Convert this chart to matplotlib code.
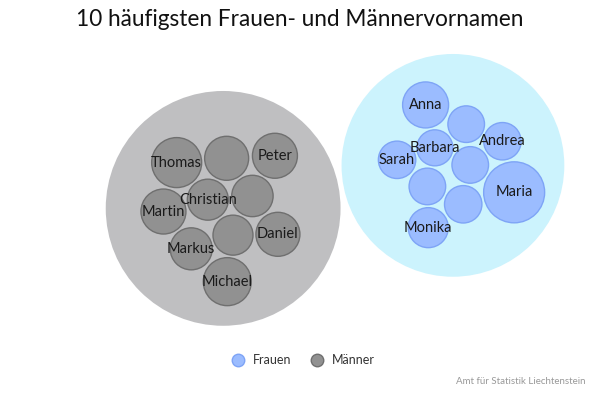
import numpy as np
import matplotlib
matplotlib.use("Agg")
import matplotlib.pyplot as plt
from matplotlib.patches import Circle
from matplotlib.lines import Line2D

plt.rcParams['font.family'] = ['Lato', 'DejaVu Sans']

# daten (grösse der blasen ~ anzahl)
frauen_namen = ["Maria", "Anna", "Monika", "Andrea", "Sarah", "", "", "", "", "Barbara"]
frauen_werte = [930, 529, 400, 350, 350, 350, 335, 335, 335, 324]
maenner_namen = ["Thomas", "Michael", "Peter", "Martin", "Daniel", "", "Markus", "", "Christian", ""]
maenner_werte = [625, 576, 506, 506, 484, 484, 441, 428, 420, 400]
serien = ["Frauen", "Männer"]

farbe_kind = {"Frauen": "#9bbcff", "Männer": "#919191"}
farbe_rand = {"Frauen": "#7ea4f6", "Männer": "#6f6f6f"}
farbe_eltern = {"Frauen": "#ccf3fd", "Männer": "#bfbfc1"}


def pack(radien, gap=3.0, schritte=400, start=0.0):
    """einfaches kraft-layout: anziehung zur mitte, abstossung bei ueberlappung"""
    r = np.asarray(radien, float)
    n = len(r)
    k = np.arange(n)[::-1]  # kleine blasen zuerst in die mitte
    w = k * 2.4 + start
    pos = np.c_[np.cos(w), np.sin(w)] * (np.sqrt(k + 0.5) * r.mean() * 1.8)[:, None]
    for it in range(schritte):
        pos -= pos * 0.03
        for _ in range(4):
            for i in range(n):
                for j in range(i + 1, n):
                    d = pos[j] - pos[i]
                    dist = np.hypot(*d) + 1e-9
                    m = r[i] + r[j] + gap
                    if dist < m:
                        s = d / dist * (m - dist) / 2
                        pos[i] -= s
                        pos[j] += s
    pos -= pos.mean(axis=0)
    return pos


fig = plt.figure(figsize=(6, 4), dpi=100)
ax = fig.add_axes([0, 0, 1, 1])
ax.set_xlim(0, 600)
ax.set_ylim(400, 0)
ax.set_aspect("equal")
ax.axis("off")

skala = 1.0  # radius = skala * sqrt(wert) in pixel
gruppen = {}
for s, namen, werte, start, pad in [("Frauen", frauen_namen, frauen_werte, -2.3, 14),
                                     ("Männer", maenner_namen, maenner_werte, 1.2, 20)]:
    radien = skala * np.sqrt(werte)
    pos = pack(radien, start=start)
    R = np.max(np.hypot(pos[:, 0], pos[:, 1]) + radien) + pad
    gruppen[s] = (namen, radien, pos, R)

# eltern-blasen nebeneinander anordnen
mitte = np.array([332.0, 188.0])
richtung = np.array([0.983, -0.184])
Rf = gruppen["Frauen"][3]
Rm = gruppen["Männer"][3]
d = Rf + Rm + 5
wf, wm = Rf ** 2, Rm ** 2
zentren = {"Männer": mitte - richtung * d * wf / (wf + wm),
           "Frauen": mitte + richtung * d * wm / (wf + wm)}

for s in serien:
    namen, radien, pos, R = gruppen[s]
    c = zentren[s]
    ax.add_patch(Circle(c, R, facecolor=farbe_eltern[s], edgecolor="none", zorder=1))
    for name, r, p in zip(namen, radien, pos):
        ax.add_patch(Circle(c + p, r, facecolor=farbe_kind[s], edgecolor=farbe_rand[s],
                            linewidth=1, zorder=2))
        if name:
            ax.text(c[0] + p[0], c[1] + p[1], name, ha="center", va="center",
                    fontsize=10.5, color="#1a1a1a", zorder=3)

fig.text(0.5, 0.95, "10 häufigsten Frauen- und Männervornamen", ha="center", va="center",
         fontsize=16.3, color="#111111")

handles = [Line2D([], [], marker="o", linestyle="none", markersize=9,
                  markerfacecolor=farbe_kind[s], markeredgecolor=farbe_rand[s]) for s in serien]
fig.legend(handles, serien, loc="center", bbox_to_anchor=(0.5, 0.1), ncol=2, frameon=False,
           fontsize=9, labelcolor="#333333", handletextpad=0.2, columnspacing=1.0)

fig.text(0.975, 0.047, "Amt für Statistik Liechtenstein", ha="right", va="center",
         fontsize=7, color="#999999")

fig.savefig("out.png", dpi=100)
